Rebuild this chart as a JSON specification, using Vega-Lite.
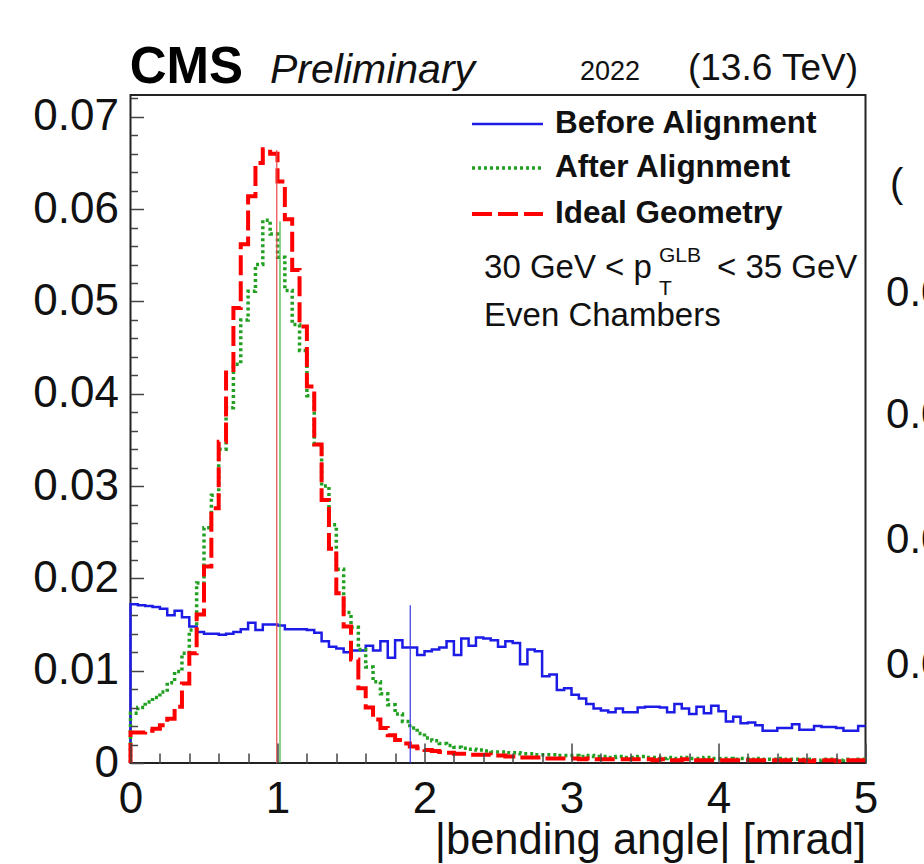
{
  "$schema": "https://vega.github.io/schema/vega-lite/v6.json",
  "width": 735,
  "height": 668,
  "autosize": "none",
  "padding": {"left": 130.5, "top": 95, "right": 58.5, "bottom": 101},
  "background": "white",
  "config": {
    "view": {"stroke": "#222222", "strokeWidth": 2},
    "font": "Liberation Sans",
    "axis": {"grid": false, "domain": false}
  },
  "datasets": {
    "hist": [
      {"x":0,"before":0,"after":0,"ideal":0},
      {"x":0,"before":0.0172,"after":0.0054,"ideal":0.0033},
      {"x":0.05,"before":0.0171,"after":0.0060,"ideal":0.0033},
      {"x":0.1,"before":0.0170,"after":0.0066,"ideal":0.0035},
      {"x":0.15,"before":0.0169,"after":0.0071,"ideal":0.0037},
      {"x":0.2,"before":0.0167,"after":0.0077,"ideal":0.0041},
      {"x":0.25,"before":0.0160,"after":0.0087,"ideal":0.0048},
      {"x":0.3,"before":0.0165,"after":0.0099,"ideal":0.0061},
      {"x":0.35,"before":0.0158,"after":0.0119,"ideal":0.0086},
      {"x":0.4,"before":0.0148,"after":0.0144,"ideal":0.0119},
      {"x":0.45,"before":0.0142,"after":0.0195,"ideal":0.0161},
      {"x":0.5,"before":0.0140,"after":0.0255,"ideal":0.0213},
      {"x":0.55,"before":0.0140,"after":0.0290,"ideal":0.0276},
      {"x":0.6,"before":0.0139,"after":0.0340,"ideal":0.0348},
      {"x":0.65,"before":0.0140,"after":0.0385,"ideal":0.0423},
      {"x":0.7,"before":0.0142,"after":0.0432,"ideal":0.0493},
      {"x":0.75,"before":0.0145,"after":0.0480,"ideal":0.0562},
      {"x":0.8,"before":0.0152,"after":0.0511,"ideal":0.0614},
      {"x":0.85,"before":0.0144,"after":0.0540,"ideal":0.0650},
      {"x":0.9,"before":0.0150,"after":0.0588,"ideal":0.0665},
      {"x":0.95,"before":0.0150,"after":0.0573,"ideal":0.0660},
      {"x":1,"before":0.0149,"after":0.0548,"ideal":0.0630},
      {"x":1.05,"before":0.0145,"after":0.0512,"ideal":0.0589},
      {"x":1.1,"before":0.0145,"after":0.0475,"ideal":0.0534},
      {"x":1.15,"before":0.0145,"after":0.0447,"ideal":0.0473},
      {"x":1.2,"before":0.0144,"after":0.0398,"ideal":0.0408},
      {"x":1.25,"before":0.0141,"after":0.0345,"ideal":0.0345},
      {"x":1.3,"before":0.0132,"after":0.0300,"ideal":0.0285},
      {"x":1.35,"before":0.0126,"after":0.0258,"ideal":0.0232},
      {"x":1.4,"before":0.0124,"after":0.0210,"ideal":0.0184},
      {"x":1.45,"before":0.0120,"after":0.0163,"ideal":0.0148},
      {"x":1.5,"before":0.0122,"after":0.0147,"ideal":0.0112},
      {"x":1.55,"before":0.0122,"after":0.0123,"ideal":0.0081},
      {"x":1.6,"before":0.0127,"after":0.0104,"ideal":0.0060},
      {"x":1.65,"before":0.0122,"after":0.0088,"ideal":0.0047},
      {"x":1.7,"before":0.0132,"after":0.0075,"ideal":0.0038},
      {"x":1.75,"before":0.0114,"after":0.0063,"ideal":0.0030},
      {"x":1.8,"before":0.0133,"after":0.0053,"ideal":0.0025},
      {"x":1.85,"before":0.0125,"after":0.0045,"ideal":0.0021},
      {"x":1.9,"before":0.0125,"after":0.0038,"ideal":0.0018},
      {"x":1.95,"before":0.0117,"after":0.0032,"ideal":0.0016},
      {"x":2,"before":0.0121,"after":0.0027,"ideal":0.0014},
      {"x":2.05,"before":0.0123,"after":0.0024,"ideal":0.0013},
      {"x":2.1,"before":0.0125,"after":0.0021,"ideal":0.0012},
      {"x":2.15,"before":0.0132,"after":0.0019,"ideal":0.0011},
      {"x":2.2,"before":0.0117,"after":0.0017,"ideal":0.0010},
      {"x":2.25,"before":0.0135,"after":0.0016,"ideal":0.0010},
      {"x":2.3,"before":0.0127,"after":0.0015,"ideal":0.0009},
      {"x":2.35,"before":0.0136,"after":0.0014,"ideal":0.0009},
      {"x":2.4,"before":0.0135,"after":0.0013,"ideal":0.0009},
      {"x":2.45,"before":0.0133,"after":0.0012,"ideal":0.0008},
      {"x":2.5,"before":0.0126,"after":0.0012,"ideal":0.0008},
      {"x":2.55,"before":0.0132,"after":0.0011,"ideal":0.0007},
      {"x":2.6,"before":0.0130,"after":0.0011,"ideal":0.0007},
      {"x":2.65,"before":0.0107,"after":0.0010,"ideal":0.0006},
      {"x":2.7,"before":0.0123,"after":0.0010,"ideal":0.0006},
      {"x":2.75,"before":0.0121,"after":0.0009,"ideal":0.0006},
      {"x":2.8,"before":0.0094,"after":0.0009,"ideal":0.0005},
      {"x":2.85,"before":0.0096,"after":0.0009,"ideal":0.0005},
      {"x":2.9,"before":0.0079,"after":0.0008,"ideal":0.0005},
      {"x":2.95,"before":0.0081,"after":0.0008,"ideal":0.0005},
      {"x":3,"before":0.0074,"after":0.0008,"ideal":0.0005},
      {"x":3.05,"before":0.0070,"after":0.0007,"ideal":0.0004},
      {"x":3.1,"before":0.0064,"after":0.0008,"ideal":0.0005},
      {"x":3.15,"before":0.0059,"after":0.0007,"ideal":0.0004},
      {"x":3.2,"before":0.0057,"after":0.0007,"ideal":0.0004},
      {"x":3.25,"before":0.0055,"after":0.0006,"ideal":0.0004},
      {"x":3.3,"before":0.0059,"after":0.0007,"ideal":0.0004},
      {"x":3.35,"before":0.0055,"after":0.0006,"ideal":0.0004},
      {"x":3.4,"before":0.0055,"after":0.0006,"ideal":0.0004},
      {"x":3.45,"before":0.0060,"after":0.0007,"ideal":0.0004},
      {"x":3.5,"before":0.0061,"after":0.0006,"ideal":0.0004},
      {"x":3.55,"before":0.0061,"after":0.0006,"ideal":0.0003},
      {"x":3.6,"before":0.0060,"after":0.0005,"ideal":0.0004},
      {"x":3.65,"before":0.0055,"after":0.0006,"ideal":0.0003},
      {"x":3.7,"before":0.0064,"after":0.0005,"ideal":0.0003},
      {"x":3.75,"before":0.0059,"after":0.0006,"ideal":0.0004},
      {"x":3.8,"before":0.0053,"after":0.0005,"ideal":0.0003},
      {"x":3.85,"before":0.0061,"after":0.0005,"ideal":0.0003},
      {"x":3.9,"before":0.0054,"after":0.0006,"ideal":0.0003},
      {"x":3.95,"before":0.0062,"after":0.0005,"ideal":0.0003},
      {"x":4,"before":0.0056,"after":0.0005,"ideal":0.0003},
      {"x":4.05,"before":0.0045,"after":0.0005,"ideal":0.0003},
      {"x":4.1,"before":0.0050,"after":0.0004,"ideal":0.0003},
      {"x":4.15,"before":0.0043,"after":0.0005,"ideal":0.0003},
      {"x":4.2,"before":0.0044,"after":0.0004,"ideal":0.0003},
      {"x":4.25,"before":0.0041,"after":0.0005,"ideal":0.0003},
      {"x":4.3,"before":0.0035,"after":0.0004,"ideal":0.0003},
      {"x":4.35,"before":0.0035,"after":0.0004,"ideal":0.0003},
      {"x":4.4,"before":0.0038,"after":0.0005,"ideal":0.0003},
      {"x":4.45,"before":0.0038,"after":0.0004,"ideal":0.0003},
      {"x":4.5,"before":0.0042,"after":0.0004,"ideal":0.0003},
      {"x":4.55,"before":0.0036,"after":0.0004,"ideal":0.0003},
      {"x":4.6,"before":0.0036,"after":0.0004,"ideal":0.0002},
      {"x":4.65,"before":0.0040,"after":0.0003,"ideal":0.0003},
      {"x":4.7,"before":0.0039,"after":0.0004,"ideal":0.0003},
      {"x":4.75,"before":0.0039,"after":0.0004,"ideal":0.0003},
      {"x":4.8,"before":0.0038,"after":0.0003,"ideal":0.0002},
      {"x":4.85,"before":0.0035,"after":0.0004,"ideal":0.0003},
      {"x":4.9,"before":0.0035,"after":0.0003,"ideal":0.0003},
      {"x":4.95,"before":0.0040,"after":0.0004,"ideal":0.0003},
      {"x":5,"before":0.0040,"after":0.0004,"ideal":0.0003}
    ],
    "means": [
      {"series":"Before","x":1.903,"top":0.0171},
      {"series":"After","x":1.017,"top":0.0587},
      {"series":"Ideal","x":0.995,"top":0.0664}
    ]
  },
  "layer": [
    {
      "data": {"name": "hist"},
      "mark": {"type": "line", "interpolate": "step-after", "color": "#1c1ce6", "strokeWidth": 2.5},
      "encoding": {
        "x": {
          "field": "x", "type": "quantitative",
          "scale": {"domain": [0, 5], "nice": false, "zero": false},
          "axis": {
            "values": [0,0.2,0.4,0.6,0.8,1,1.2,1.4,1.6,1.8,2,2.2,2.4,2.6,2.8,3,3.2,3.4,3.6,3.8,4,4.2,4.4,4.6,4.8,5],
            "tickCount": 200,
            "zindex": 1,
            "labelExpr": "datum.value % 1 === 0 ? format(datum.value, 'd') : ''",
            "tickSize": {"condition": {"test": "datum.value % 1 === 0", "value": -20}, "value": -10},
            "tickColor": "#444444", "tickWidth": 1.5,
            "labelFontSize": 44, "labelColor": "#111111", "labelPadding": 34,
            "labelFlush": false, "labelOverlap": false, "labelBound": false,
            "title": "|bending angle| [mrad]", "titleAnchor": "end", "titleFontSize": 43.5,
            "titleFontWeight": "normal", "titleColor": "#111111", "titlePadding": -12
          }
        },
        "y": {
          "field": "before", "type": "quantitative",
          "scale": {"domain": [0, 0.07237], "nice": false, "zero": true},
          "axis": {
            "values": [0,0.002,0.004,0.006,0.008,0.01,0.012,0.014,0.016,0.018,0.02,0.022,0.024,0.026,0.028,0.03,0.032,0.034,0.036,0.038,0.04,0.042,0.044,0.046,0.048,0.05,0.052,0.054,0.056,0.058,0.06,0.062,0.064,0.066,0.068,0.07,0.072],
            "tickCount": 200,
            "zindex": 1,
            "labelExpr": "abs(datum.value*100 - round(datum.value*100)) < 1e-6 ? (datum.value == 0 ? '0' : format(datum.value, '.2f')) : ''",
            "tickSize": {"condition": {"test": "abs(datum.value*100 - round(datum.value*100)) < 1e-6", "value": -13}, "value": -7},
            "tickColor": "#444444", "tickWidth": 1.5,
            "labelFontSize": 44, "labelColor": "#111111", "labelPadding": 25,
            "labelFlush": false, "labelOverlap": false, "labelBound": false,
            "title": null
          }
        }
      }
    },
    {
      "data": {"name": "hist"},
      "mark": {"type": "line", "interpolate": "step-after", "color": "#22a022", "strokeWidth": 3.5, "strokeDash": [3, 3]},
      "encoding": {
        "x": {"field": "x", "type": "quantitative"},
        "y": {"field": "after", "type": "quantitative"}
      }
    },
    {
      "data": {"name": "hist"},
      "mark": {"type": "line", "interpolate": "step-after", "color": "#ff0000", "strokeWidth": 4, "strokeDash": [20, 6]},
      "encoding": {
        "x": {"field": "x", "type": "quantitative"},
        "y": {"field": "ideal", "type": "quantitative"}
      }
    },
    {
      "data": {"name": "means"},
      "mark": {"type": "rule", "strokeWidth": 1.2},
      "encoding": {
        "x": {"field": "x", "type": "quantitative"},
        "y": {"field": "top", "type": "quantitative"},
        "y2": {"datum": 0},
        "color": {"field": "series", "type": "nominal", "legend": null,
          "scale": {"domain": ["Before", "After", "Ideal"], "range": ["#3535e8", "#3cb43c", "#e84848"]}}
      }
    },
    {
      "data": {"values": [{"k": 1}]},
      "mark": {"type": "rule", "color": "#1c1ce6", "strokeWidth": 2.5},
      "encoding": {"x": {"datum": 2.323}, "x2": {"datum": 2.806}, "y": {"datum": 0.06923}}
    },
    {
      "data": {"values": [{"k": 1}]},
      "mark": {"type": "rule", "color": "#22a022", "strokeWidth": 3.5, "strokeDash": [3, 3]},
      "encoding": {"x": {"datum": 2.323}, "x2": {"datum": 2.806}, "y": {"datum": 0.06446}}
    },
    {
      "data": {"values": [{"k": 1}]},
      "mark": {"type": "rule", "color": "#ff0000", "strokeWidth": 4, "strokeDash": [20, 6]},
      "encoding": {"x": {"datum": 2.323}, "x2": {"datum": 2.806}, "y": {"datum": 0.05948}}
    },
    {
      "data": {"values": [{"k": 1}]},
      "mark": {"type": "text", "text": "Before Alignment", "fontWeight": "bold", "fontSize": 31.5, "align": "left", "baseline": "middle", "color": "#111111"},
      "encoding": {"x": {"datum": 2.888}, "y": {"datum": 0.06923}}
    },
    {
      "data": {"values": [{"k": 1}]},
      "mark": {"type": "text", "text": "After Alignment", "fontWeight": "bold", "fontSize": 31.5, "align": "left", "baseline": "middle", "color": "#111111"},
      "encoding": {"x": {"datum": 2.888}, "y": {"datum": 0.06446}}
    },
    {
      "data": {"values": [{"k": 1}]},
      "mark": {"type": "text", "text": "Ideal Geometry", "fontWeight": "bold", "fontSize": 31.5, "align": "left", "baseline": "middle", "color": "#111111"},
      "encoding": {"x": {"datum": 2.888}, "y": {"datum": 0.05948}}
    },
    {
      "data": {"values": [{"k": 1}]},
      "mark": {"type": "text", "text": "30 GeV < p", "fontSize": 33, "align": "left", "baseline": "middle", "color": "#111111"},
      "encoding": {"x": {"datum": 2.405}, "y": {"datum": 0.05363}}
    },
    {
      "data": {"values": [{"k": 1}]},
      "mark": {"type": "text", "text": "GLB", "fontSize": 21, "align": "left", "baseline": "middle", "color": "#111111"},
      "encoding": {"x": {"datum": 3.595}, "y": {"datum": 0.05493}}
    },
    {
      "data": {"values": [{"k": 1}]},
      "mark": {"type": "text", "text": "T", "fontSize": 21, "align": "left", "baseline": "middle", "color": "#111111"},
      "encoding": {"x": {"datum": 3.595}, "y": {"datum": 0.05135}}
    },
    {
      "data": {"values": [{"k": 1}]},
      "mark": {"type": "text", "text": "< 35 GeV", "fontSize": 33, "align": "left", "baseline": "middle", "color": "#111111"},
      "encoding": {"x": {"datum": 3.99}, "y": {"datum": 0.05363}}
    },
    {
      "data": {"values": [{"k": 1}]},
      "mark": {"type": "text", "text": "Even Chambers", "fontSize": 33, "align": "left", "baseline": "middle", "color": "#111111"},
      "encoding": {"x": {"datum": 2.405}, "y": {"datum": 0.04843}}
    },
    {
      "data": {"values": [{"k": 1}]},
      "mark": {"type": "text", "text": "CMS", "fontWeight": "bold", "fontSize": 51, "align": "left", "baseline": "alphabetic", "color": "#000000"},
      "encoding": {"x": {"datum": -0.005}, "y": {"datum": 0.07367}}
    },
    {
      "data": {"values": [{"k": 1}]},
      "mark": {"type": "text", "text": "Preliminary", "fontStyle": "italic", "fontSize": 41, "align": "left", "baseline": "alphabetic", "color": "#111111"},
      "encoding": {"x": {"datum": 0.949}, "y": {"datum": 0.07367}}
    },
    {
      "data": {"values": [{"k": 1}]},
      "mark": {"type": "text", "text": "2022", "fontSize": 27, "align": "left", "baseline": "alphabetic", "color": "#111111"},
      "encoding": {"x": {"datum": 3.058}, "y": {"datum": 0.074}}
    },
    {
      "data": {"values": [{"k": 1}]},
      "mark": {"type": "text", "text": "(13.6 TeV)", "fontSize": 37, "align": "right", "baseline": "alphabetic", "color": "#111111"},
      "encoding": {"x": {"datum": 4.949}, "y": {"datum": 0.074}}
    },
    {
      "data": {"values": [{"k": 1}]},
      "mark": {"type": "text", "text": "0.04", "fontSize": 42, "align": "left", "baseline": "middle", "color": "#111111"},
      "encoding": {"x": {"datum": 5.14}, "y": {"datum": 0.05092}}
    },
    {
      "data": {"values": [{"k": 1}]},
      "mark": {"type": "text", "text": "0.03", "fontSize": 42, "align": "left", "baseline": "middle", "color": "#111111"},
      "encoding": {"x": {"datum": 5.14}, "y": {"datum": 0.0377}}
    },
    {
      "data": {"values": [{"k": 1}]},
      "mark": {"type": "text", "text": "0.02", "fontSize": 42, "align": "left", "baseline": "middle", "color": "#111111"},
      "encoding": {"x": {"datum": 5.14}, "y": {"datum": 0.02416}}
    },
    {
      "data": {"values": [{"k": 1}]},
      "mark": {"type": "text", "text": "0.01", "fontSize": 42, "align": "left", "baseline": "middle", "color": "#111111"},
      "encoding": {"x": {"datum": 5.14}, "y": {"datum": 0.01062}}
    },
    {
      "data": {"values": [{"k": 1}]},
      "mark": {"type": "text", "text": "(", "fontSize": 40, "align": "left", "baseline": "middle", "color": "#111111"},
      "encoding": {"x": {"datum": 5.167}, "y": {"datum": 0.06262}}
    }
  ]
}
